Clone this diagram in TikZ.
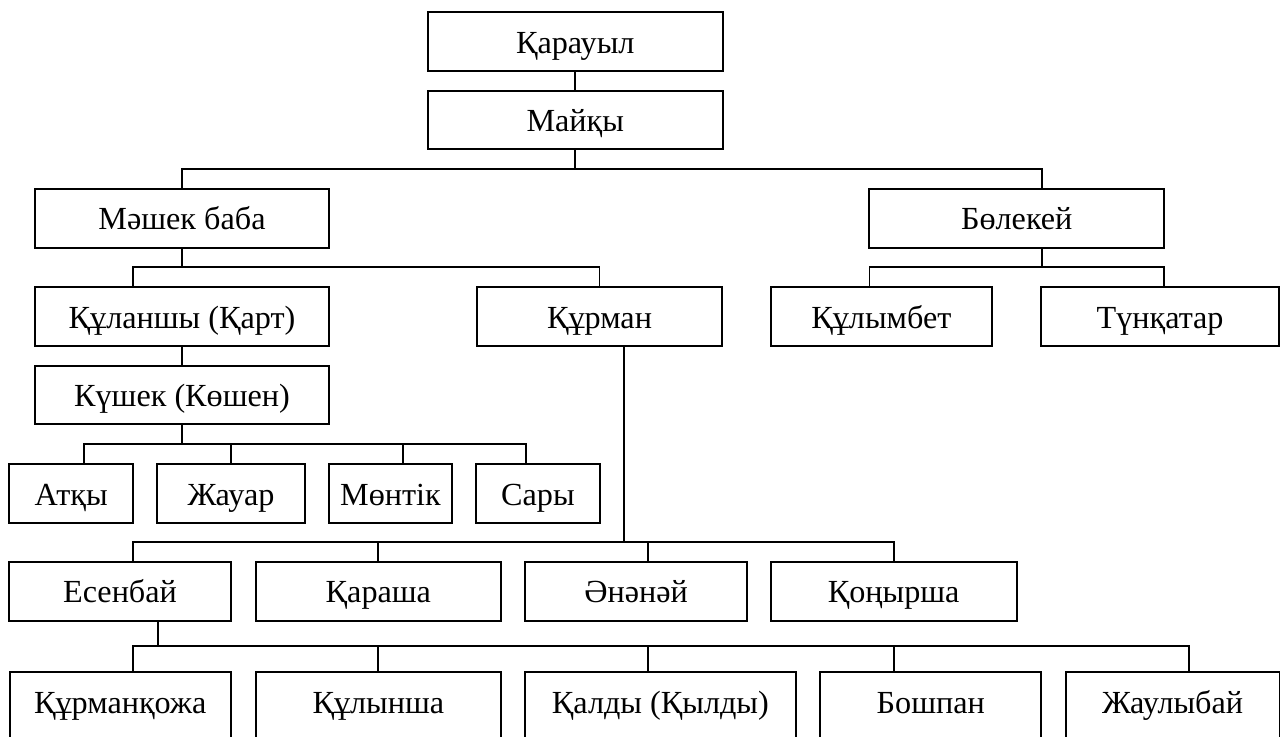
\documentclass[tikz,border=0pt]{standalone}
\usepackage{fontspec}
\setmainfont{Liberation Serif}
\newcommand\mkbox[6]{%
  \pgfmathsetmacro\myboxW{(#4-#2)*0.5}%
  \pgfmathsetmacro\myboxH{(#5-#3)*0.5}%
  \node[box, minimum width=\myboxW pt, minimum height=\myboxH pt] (#1) at ({(#2+#4)/2},{(#3+#5)/2}) {#6};}
\newcommand\mkopen[5]{%
  \pgfmathsetmacro\myboxW{(#4-#2)*0.5}%
  \node[box, draw=none, outer sep=0pt, minimum width=\myboxW pt, minimum height=29.5pt] (#1) at ({(#2+#4)/2},{#3+29.5}) {#5};
  \draw[boxline] ([yshift=-30pt]#1.south west) -- (#1.north west) -- (#1.north east) -- ([yshift=-30pt]#1.south east);}
\begin{document}
\begin{tikzpicture}[x=0.5pt,y=-0.5pt,
  box/.style={draw, line width=1pt, inner sep=0pt, font=\fontsize{16.1}{19}\selectfont, text height=11.6pt, text depth=0pt},
  boxline/.style={line width=1pt},
  conn/.style={line width=0.9pt}]
\clip (0,0) rectangle (1280,737);
\fill[white] (0,0) rectangle (1280,737);
% boxes
\mkbox{karauyl}{428}{12.3}{722.5}{70.7}{Қарауыл}
\mkbox{maiky}{428}{90.7}{722.5}{149.3}{Майқы}
\mkbox{mashek}{35}{189}{329}{247.7}{Мәшек баба}
\mkbox{bolekei}{869.4}{189}{1164}{247.7}{Бөлекей}
\mkbox{kulanshy}{35}{287}{329}{346}{Құланшы (Қарт)}
\mkbox{kurman}{477}{287}{722}{346}{Құрман}
\mkbox{kulymbet}{770.6}{287}{992.2}{346}{Құлымбет}
\mkbox{tunkatar}{1041.2}{287}{1279}{346}{Түнқатар}
\mkbox{kushek}{35}{366}{329}{424}{Күшек (Көшен)}
\mkbox{atky}{9.4}{464}{133}{523.3}{Атқы}
\mkbox{zhauar}{157}{464}{305}{523.3}{Жауар}
\mkbox{montik}{329}{464}{452}{523.3}{Мөнтік}
\mkbox{sary}{476.3}{464}{599.6}{523.3}{Сары}
\mkbox{esenbai}{9.4}{562}{230.6}{620.7}{Есенбай}
\mkbox{karasha}{255.5}{562}{501.2}{620.7}{Қараша}
\mkbox{anai}{525.3}{562}{747}{620.7}{Әнәнәй}
\mkbox{konyrsha}{770.6}{562}{1016.7}{620.7}{Қоңырша}
\mkopen{kurmankozha}{10}{672}{230.6}{Құрманқожа}
\mkopen{kulynsha}{255.5}{672}{501.2}{Құлынша}
\mkopen{kaldy}{525.3}{672}{795.5}{Қалды (Қылды)}
\mkopen{boshpan}{820.4}{672}{1041.2}{Бошпан}
\mkopen{zhaulybai}{1065.7}{672}{1279.5}{Жаулыбай}
% bus levels and drop positions
\coordinate (b1) at (0,169);
\coordinate (b2) at (0,267);
\coordinate (b3) at (0,444);
\coordinate (b4) at (0,542.3);
\coordinate (b5) at (0,646);
\coordinate (xa) at (132.7,0);
\coordinate (xbol) at (1041.6,0);
\coordinate (xkul) at (869.4,0);
\coordinate (xtun) at (1163.7,0);
\coordinate (x3a) at (83.7,0);
\coordinate (x3c) at (402.9,0);
\coordinate (x3d) at (525.7,0);
\coordinate (xk) at (623.7,0);
\coordinate (xan) at (648.2,0);
\coordinate (xe) at (157.6,0);
\coordinate (xbo) at (893.9,0);
\coordinate (xz) at (1189,0);
% connectors
\draw[conn] (karauyl.south) -- (maiky.north);
\draw[conn] (maiky.south) -- (maiky.south |- b1);
\draw[conn] (mashek.north) |- (xbol |- b1) -- (bolekei.north -| xbol);
\draw[conn] (mashek.south) -- (mashek.south |- b2);
\draw[conn] (kulanshy.north -| xa) |- (kurman.north |- b2) -- (kurman.north);
\draw[conn] (bolekei.south -| xbol) -- (xbol |- b2);
\draw[conn] (kulymbet.north -| xkul) |- (xtun |- b2) -- (tunkatar.north -| xtun);
\draw[conn] (kulanshy.south) -- (kushek.north);
\draw[conn] (kushek.south) -- (kushek.south |- b3);
\draw[conn] (atky.north -| x3a) |- (x3d |- b3) -- (sary.north -| x3d);
\draw[conn] (zhauar.north) -- (zhauar.north |- b3);
\draw[conn] (montik.north -| x3c) -- (x3c |- b3);
\draw[conn] (kurman.south -| xk) -- (xk |- b4);
\draw[conn] (esenbai.north -| xa) |- (xbo |- b4) -- (konyrsha.north -| xbo);
\draw[conn] (karasha.north) -- (karasha.north |- b4);
\draw[conn] (anai.north -| xan) -- (xan |- b4);
\draw[conn] (esenbai.south -| xe) -- (xe |- b5);
\draw[conn] (kurmankozha.north -| xa) |- (xz |- b5) -- (zhaulybai.north -| xz);
\draw[conn] (kulynsha.north) -- (kulynsha.north |- b5);
\draw[conn] (kaldy.north -| xan) -- (xan |- b5);
\draw[conn] (boshpan.north -| xbo) -- (xbo |- b5);
\end{tikzpicture}
\end{document}
